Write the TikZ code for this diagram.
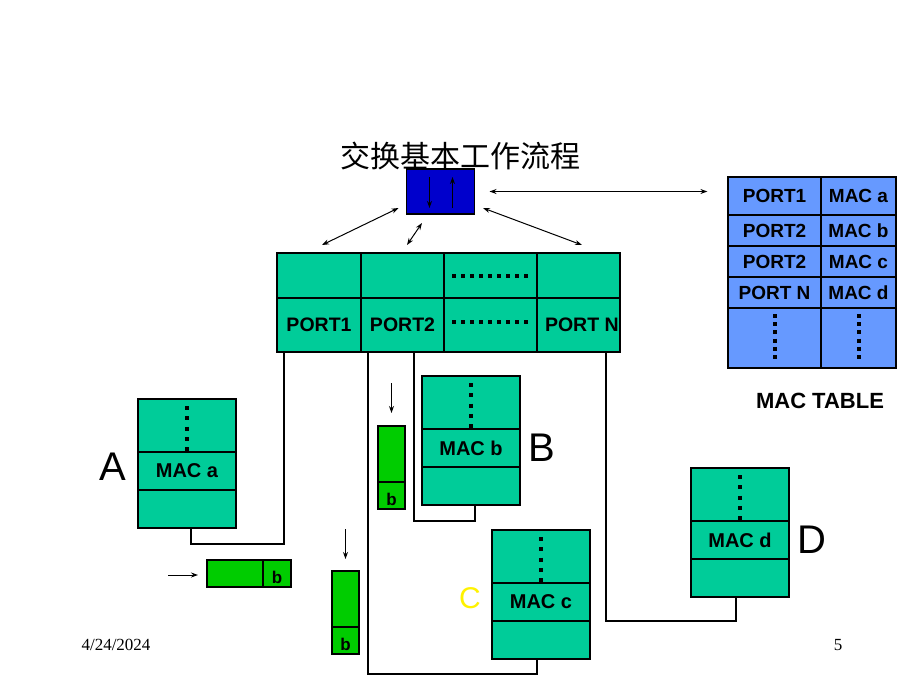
\documentclass[tikz,border=0pt]{standalone}
\usepackage{fontspec}
\setmainfont{Liberation Serif}
\newfontfamily\arialfont{Liberation Sans}
\newfontfamily\cjkfont{Noto Sans CJK SC}
\usetikzlibrary{matrix,arrows.meta,positioning,calc}
\definecolor{hostteal}{RGB}{0,204,153}
\definecolor{switchblue}{RGB}{0,0,204}
\definecolor{tableblue}{RGB}{102,153,255}
\definecolor{framegreen}{RGB}{0,204,0}
\tikzset{%
  boxcell/.style   = {draw, line width=1.2pt, outer sep=0pt, inner sep=0pt},%
  portcell/.style  = {boxcell, fill=hostteal,%
                      font=\arialfont\bfseries\fontsize{19.5pt}{22pt}\selectfont},%
  hostcell/.style  = {boxcell, fill=hostteal, minimum width=98pt,%
                      font=\arialfont\bfseries\fontsize{20pt}{24pt}\selectfont},%
  framecell/.style = {boxcell, fill=framegreen, text height=20pt, text depth=0pt,%
                      font=\arialfont\bfseries\fontsize{17pt}{20pt}\selectfont},%
  hostlabel/.style = {inner sep=0pt, font=\arialfont\fontsize{40pt}{44pt}\selectfont},%
  dotline/.style   = {line width=4pt, dash pattern=on 4pt off #1},%
  dotline/.default = 6pt,%
  wire/.style      = {line width=1.2pt},%
  flow/.style      = {line width=1pt, -{Stealth[length=7pt,width=5pt]}},%
  biflow/.style    = {line width=1pt, {Stealth[length=7pt,width=5pt]}-{Stealth[length=7pt,width=5pt]}}%
}
\begin{document}
\begin{tikzpicture}[x=1pt,y=-1pt]
	\useasboundingbox (0,0) rectangle (920,690);
	\node[inner sep=0pt, font=\cjkfont\fontsize{30pt}{34pt}\selectfont] (title) at (460.5,155.5) {交换基本工作流程};
	% switch
	\node[boxcell, fill=switchblue, minimum width=68pt, minimum height=45pt] (switch) at (440.5,191.5) {};
	\coordinate (downtop) at (429.5,177);
	\coordinate (downbot) at (429.5,208);
	\coordinate (uptop) at (452.5,177);
	\coordinate (upbot) at (452.5,208);
	\draw[flow, line width=1.3pt] (downtop) -- (downbot);
	\draw[flow, line width=1.3pt] (upbot) -- (uptop);
	% port table
	\node[portcell, minimum width=84pt, minimum height=45pt, anchor=north west] (t1) at (277,253) {};
	\node[portcell, minimum width=83pt, minimum height=45pt, right=0pt of t1] (t2) {};
	\node[portcell, minimum width=93pt, minimum height=45pt, right=0pt of t2] (t3) {};
	\node[portcell, minimum width=83pt, minimum height=45pt, right=0pt of t3] (t4) {};
	\node[portcell, minimum width=84pt, minimum height=54pt, below=0pt of t1] (p1) {PORT1};
	\node[portcell, minimum width=83pt, minimum height=54pt, below=0pt of t2] (p2) {PORT2};
	\node[portcell, minimum width=93pt, minimum height=54pt, below=0pt of t3] (p3) {};
	\node[portcell, minimum width=83pt, minimum height=54pt, below=0pt of t4] (p4) {};
	\begin{scope}
		\clip (p4.north west) rectangle (p4.south east);
		\node[portcell, draw=none, fill=none, anchor=west] (pNtext) at ([xshift=8pt]p4.west) {PORT N};
	\end{scope}
	\draw[dotline=5pt] ([xshift=8pt]t3.west) -- ([xshift=-8pt]t3.east);
	\draw[dotline=5pt] ([xshift=8pt,yshift=3pt]p3.west) -- ([xshift=-8pt,yshift=3pt]p3.east);
	% mac table
	\matrix (mactab) [matrix of nodes, nodes in empty cells, anchor=north west,
		inner sep=0pt, outer sep=0pt, row sep=-1.2pt, column sep=-1.2pt,
		nodes={boxcell, fill=tableblue, anchor=center, minimum height=31pt,
			font=\arialfont\bfseries\fontsize{19pt}{22pt}\selectfont},
		column 1/.style={nodes={minimum width=93pt}},
		column 2/.style={nodes={minimum width=75pt}},
		row 1/.style={nodes={minimum height=38pt}},
		row 5/.style={nodes={minimum height=60pt}}] at (727.4,176.4) {
		PORT1  & MAC a \\
		PORT2  & MAC b \\
		PORT2  & MAC c \\
		PORT N & MAC d \\
		       &       \\
	};
	\draw[dotline=4.2pt] ([yshift=-6pt]mactab-5-1.north) -- ([yshift=5pt]mactab-5-1.south);
	\draw[dotline=4.2pt] ([yshift=-6pt]mactab-5-2.north) -- ([yshift=5pt]mactab-5-2.south);
	\node[inner sep=0pt, font=\arialfont\bfseries\fontsize{22pt}{26pt}\selectfont,
		below=24pt of mactab, xshift=8pt] (mactitle) {MAC TABLE};
	% switch links
	\draw[biflow] ([xshift=15pt]switch.east) -- ([xshift=-20pt]switch.east -| mactab.west);
	\draw[biflow] ([xshift=-8pt,yshift=6pt]switch.south west) -- ([xshift=3pt,yshift=8pt]t1.north);
	\draw[biflow] ([xshift=-18.5pt,yshift=-9pt]switch.south) -- ([xshift=4.5pt,yshift=8pt]t2.north);
	\draw[biflow] ([xshift=8.5pt,yshift=6pt]switch.south east) -- ([xshift=3.5pt,yshift=8pt]t4.north);
	% hosts
	\foreach \n/\x/\y in {a/138/399, b/422/376, c/492/530, d/691/468}{%
		\node[hostcell, minimum height=53pt, anchor=north west] (\n1) at (\x,\y) {};
		\node[hostcell, minimum height=38pt, below=0pt of \n1] (\n2) {MAC \n};
		\node[hostcell, minimum height=38pt, below=0pt of \n2] (\n3) {};
		\draw[dotline=6.25pt] ([yshift=-7pt]\n1.north) -- (\n1.south);
	}
	\node[hostlabel, left=12pt of a2, yshift=4pt] (labA) {A};
	\node[hostlabel, right=8pt of b2] (labB) {B};
	\node[hostlabel, text=yellow, font=\arialfont\fontsize{30pt}{34pt}\selectfont,
		left=11pt of c2, yshift=4pt] (labC) {C};
	\node[hostlabel, right=8pt of d2] (labD) {D};
	% wires
	\coordinate (jA) at (284,544);
	\coordinate (jB) at (414,521);
	\coordinate (jC) at (368,674);
	\coordinate (jD) at (606,621);
	\draw[wire] ([xshift=4pt]a3.south) |- (jA) -- (jA |- p1.south);
	\draw[wire] ([xshift=4pt]b3.south) |- (jB) -- (jB |- p2.south);
	\draw[wire] ([xshift=-4pt]c3.south) |- (jC) -- (jC |- p2.south);
	\draw[wire] ([xshift=-4pt]d3.south) |- (jD) -- (jD |- p4.south);
	% frames
	\node[framecell, minimum width=56pt, minimum height=27pt, anchor=north west] (pkh) at (207,560) {};
	\node[framecell, minimum width=28pt, minimum height=27pt, right=0pt of pkh] (pkhb) {b};
	\node[framecell, minimum width=27pt, minimum height=56pt, anchor=north west] (pkv1) at (332,571) {};
	\node[framecell, minimum width=27pt, minimum height=27pt, below=0pt of pkv1] (pkv1b) {b};
	\node[framecell, minimum width=27pt, minimum height=56pt, anchor=north west] (pkv2) at (378,426) {};
	\node[framecell, minimum width=27pt, minimum height=27pt, below=0pt of pkv2] (pkv2b) {b};
	\coordinate (srcA) at (168,575);
	\coordinate (srcB) at (345.5,529);
	\coordinate (srcC) at (391.5,383);
	\draw[flow, shorten >=9pt] (srcA) -- (srcA -| pkh.west);
	\draw[flow, shorten >=12pt] (srcB) -- (pkv1.north);
	\draw[flow, shorten >=13pt] (srcC) -- (pkv2.north);
	% footer
	\node[inner sep=0pt, font=\fontsize{17pt}{20pt}\selectfont] (date) at (116,645) {4/24/2024};
	\node[inner sep=0pt, font=\fontsize{17pt}{20pt}\selectfont] (pagenum) at (838,645) {5};
\end{tikzpicture}
\end{document}
